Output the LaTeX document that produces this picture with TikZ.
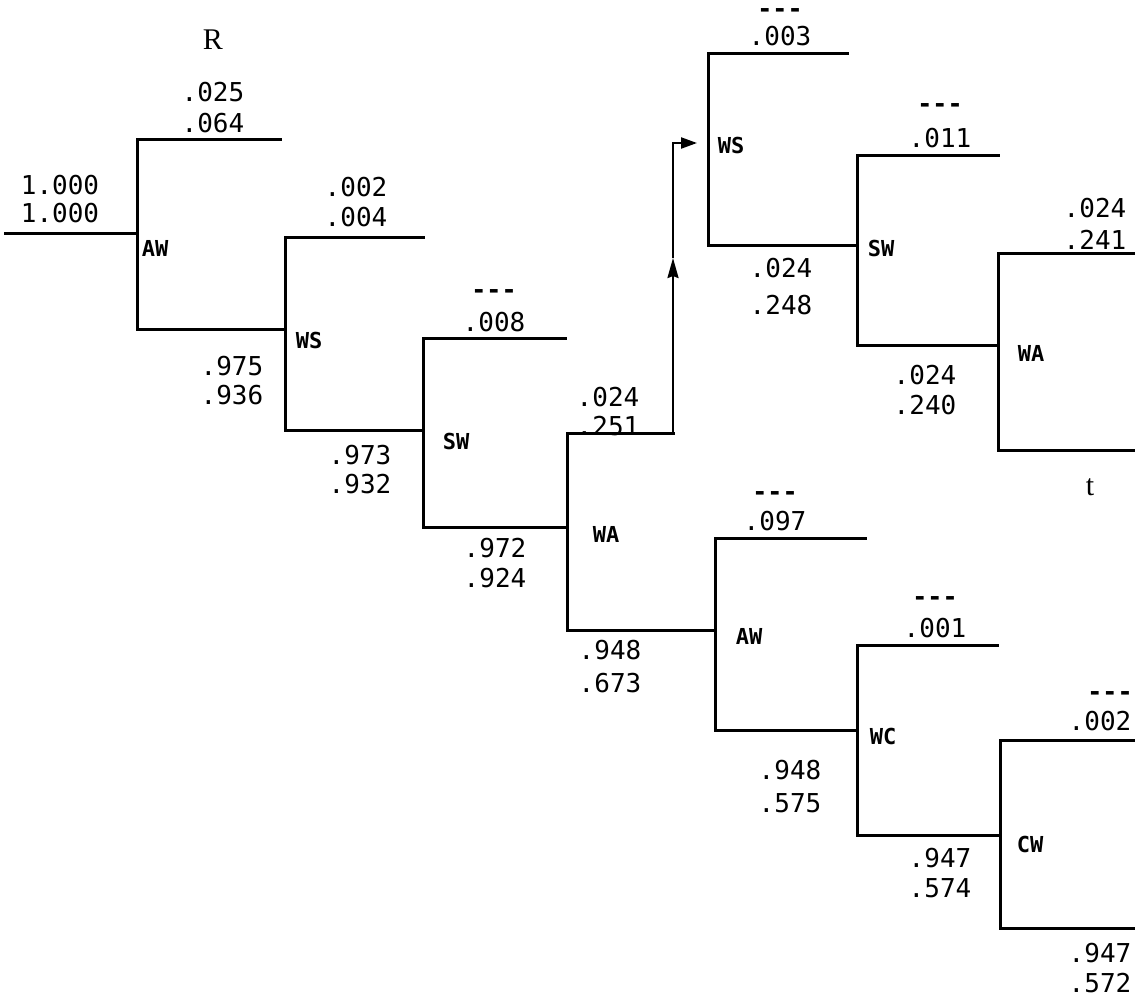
\documentclass[tikz,border=0pt]{standalone}
\usepackage{fontspec}
\newfontfamily\tw{DejaVu Sans Mono}
\newfontfamily\rmf{Liberation Serif}
\usetikzlibrary{arrows.meta}
\begin{document}
\begin{tikzpicture}[x=1pt,y=-1pt,
  br/.style={line width=3pt,line cap=rect},
  num/.style={inner sep=0pt,font=\tw\fontsize{26}{28}\selectfont},
  lab/.style={inner sep=0pt,font=\tw\bfseries\fontsize{22}{26}\selectfont},
  dsh/.style={inner sep=0pt,text height=11pt,text depth=0pt,font=\tw\bfseries\fontsize{25}{26}\selectfont},
  ser/.style={inner sep=0pt,font=\rmf\fontsize{30}{34}\selectfont}]
\useasboundingbox (0,0) rectangle (1135,997);
% coordinates of forks
\coordinate (s0) at (5,233);
\coordinate (f1) at (137,233); \coordinate (f1t) at (137,139); \coordinate (f1b) at (137,329);
\coordinate (e1t) at (280,139);
\coordinate (f2) at (285,329); \coordinate (f2t) at (285,237); \coordinate (f2b) at (285,430);
\coordinate (e2t) at (423,237);
\coordinate (f3) at (423,430); \coordinate (f3t) at (423,338); \coordinate (f3b) at (423,527);
\coordinate (e3t) at (565,338);
\coordinate (f4) at (567,527); \coordinate (f4t) at (567,433); \coordinate (f4b) at (567,630);
\coordinate (a1) at (673,433); \coordinate (am) at (673,258); \coordinate (a2) at (673,143); \coordinate (a3) at (697,143);
\coordinate (g1t) at (708,53); \coordinate (g1b) at (708,245); \coordinate (e5t) at (847,53);
\coordinate (g2) at (857,245); \coordinate (g2t) at (857,155); \coordinate (g2b) at (857,345); \coordinate (e6t) at (998,155);
\coordinate (g3) at (998,345); \coordinate (g3t) at (998,253); \coordinate (g3b) at (998,450);
\coordinate (e7t) at (1135,253); \coordinate (e7b) at (1135,450);
\coordinate (h1) at (715,630); \coordinate (h1t) at (715,538); \coordinate (h1b) at (715,730); \coordinate (e8t) at (865,538);
\coordinate (h2) at (857,730); \coordinate (h2t) at (857,645); \coordinate (h2b) at (857,835); \coordinate (e9t) at (997,645);
\coordinate (h3) at (1000,835); \coordinate (h3t) at (1000,740); \coordinate (h3b) at (1000,928);
\coordinate (e10t) at (1135,740); \coordinate (e10b) at (1135,928);
% branches
\draw[br] (s0) -- (f1);
\draw[br] (e1t) -- (f1t) -- (f1b) -- (f2);
\draw[br] (e2t) -- (f2t) -- (f2b) -- (f3);
\draw[br] (e3t) -- (f3t) -- (f3b) -- (f4);
\draw[br] (a1) -- (f4t) -- (f4b) -- (h1);
\draw[line width=2.2pt,-{Stealth[length=20pt,width=11pt,inset=2pt]}] (a1) -- (am);
\draw[line width=2.2pt,-{Triangle[length=16pt,width=11pt]}] (am) -- (a2) -- (a3);
\draw[br] (e5t) -- (g1t) -- (g1b) -- (g2);
\draw[br] (e6t) -- (g2t) -- (g2b) -- (g3);
\draw[br] (e7t) -- (g3t) -- (g3b) -- (e7b);
\draw[br] (e8t) -- (h1t) -- (h1b) -- (h2);
\draw[br] (e9t) -- (h2t) -- (h2b) -- (h3);
\draw[br] (e10t) -- (h3t) -- (h3b) -- (e10b);
% labels
\node[ser] (R) at (213,40) {R};
\node[num] (n1) at (213,92) {.025};
\node[num] (n2) at (213,123) {.064};
\node[num] (n3) at (60,185) {1.000};
\node[num] (n4) at (60,213) {1.000};
\node[lab] (AW1) at (155,248) {AW};
\node[num] (n5) at (356,187) {.002};
\node[num] (n6) at (356,217) {.004};
\node[num] (n7) at (232,366) {.975};
\node[num] (n8) at (232,395) {.936};
\node[lab] (WS1) at (309,340) {WS};
\node[dsh] (d1) at (494,293) {{-}{-}{-}};
\node[num] (n9) at (494,322) {.008};
\node[lab] (SW1) at (456,441) {SW};
\node[num] (n10) at (360,455) {.973};
\node[num] (n11) at (360,484) {.932};
\node[lab] (WA1) at (606,534) {WA};
\node[num] (n12) at (608,397) {.024};
\node[num] (n13) at (608,426) {.251};
\node[num] (n14) at (495,548) {.972};
\node[num] (n15) at (495,578) {.924};
\node[dsh] (d2) at (780,12) {{-}{-}{-}};
\node[num] (n16) at (780,36) {.003};
\node[lab] (WS2) at (731,145) {WS};
\node[num] (n17) at (781,268) {.024};
\node[num] (n18) at (781,305) {.248};
\node[dsh] (d3) at (940,107) {{-}{-}{-}};
\node[num] (n19) at (940,138) {.011};
\node[lab] (SW2) at (881,248) {SW};
\node[num] (n20) at (1095,208) {.024};
\node[num] (n21) at (1095,240) {.241};
\node[num] (n22) at (925,375) {.024};
\node[num] (n23) at (925,405) {.240};
\node[lab] (WA2) at (1031,353) {WA};
\node[ser] (t) at (1090,487) {t};
\node[dsh] (d4) at (775,495) {{-}{-}{-}};
\node[num] (n24) at (775,521) {.097};
\node[lab] (AW2) at (749,636) {AW};
\node[num] (n25) at (610,650) {.948};
\node[num] (n26) at (610,683) {.673};
\node[dsh] (d5) at (935,600) {{-}{-}{-}};
\node[num] (n27) at (935,628) {.001};
\node[lab] (WC) at (883,736) {WC};
\node[num] (n28) at (790,770) {.948};
\node[num] (n29) at (790,803) {.575};
\node[dsh] (d6) at (1110,695) {{-}{-}{-}};
\node[num] (n30) at (1100,721) {.002};
\node[lab] (CW) at (1030,844) {CW};
\node[num] (n31) at (940,858) {.947};
\node[num] (n32) at (940,888) {.574};
\node[num] (n33) at (1100,953) {.947};
\node[num] (n34) at (1100,983) {.572};
\end{tikzpicture}
\end{document}
